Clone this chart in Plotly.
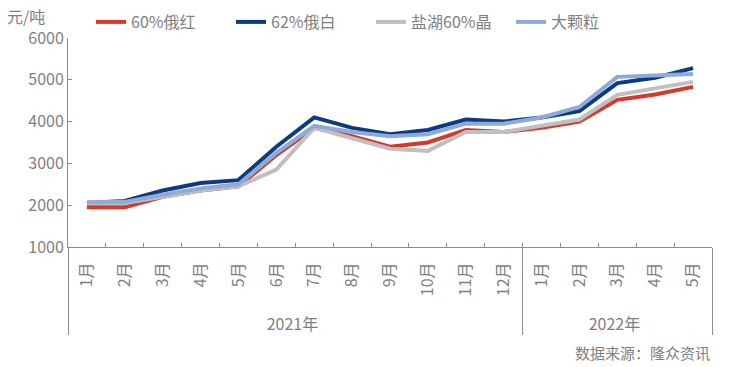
import plotly.graph_objects as go

years = ["2021年"] * 12 + ["2022年"] * 5
months = ["1月", "2月", "3月", "4月", "5月", "6月", "7月", "8月", "9月", "10月", "11月", "12月",
          "1月", "2月", "3月", "4月", "5月"]

s_red = [1950, 1950, 2200, 2350, 2450, 3200, 3850, 3650, 3400, 3500, 3800, 3750, 3850, 4000, 4520, 4650, 4830]
s_dblue = [2050, 2100, 2350, 2530, 2600, 3400, 4100, 3850, 3700, 3800, 4050, 4000, 4100, 4250, 4920, 5050, 5280]
s_gray = [2050, 2050, 2200, 2350, 2450, 2850, 3850, 3600, 3350, 3300, 3750, 3750, 3900, 4050, 4640, 4800, 4950]
s_lblue = [2070, 2080, 2250, 2400, 2500, 3250, 3900, 3750, 3650, 3700, 3950, 3950, 4100, 4350, 5070, 5100, 5140]

names = ["60%俄红", "62%俄白", "盐湖60%晶", "大颗粒"]
colors = ["#d7382b", "#0b3b80", "#c0c0c0", "#8faad8"]
series = [s_red, s_dblue, s_gray, s_lblue]

# invisible leading padding so the year row sits lower (labels are rotated, end-anchored)
month_labels = ["\u00a0\u00a0\u00a0" + m for m in months]

font_family = "Noto Sans CJK SC, Noto Sans, sans-serif"
txt = "#7f7f7f"

fig = go.Figure()
for n, c, s in zip(names, colors, series):
    fig.add_trace(go.Scatter(x=[years, month_labels], y=s, name=n, mode="lines",
                             line=dict(color=c, width=4)))

fig.update_layout(
    width=734, height=367,
    margin=dict(l=68, r=22, t=38, b=120, autoexpand=False),
    paper_bgcolor="white", plot_bgcolor="white",
    font=dict(family=font_family, size=14, color=txt),
    showlegend=True,
    legend=dict(orientation="h", x=23 / 644, xanchor="left", y=1 + 16 / 209, yanchor="middle",
                font=dict(size=16, color=txt), entrywidth=95, tracegroupgap=0,
                bgcolor="rgba(0,0,0,0)"),
    xaxis=dict(type="multicategory", range=[-0.5, 16.5], showline=True,
               linecolor="#8c8c8c", linewidth=1,
               ticks="inside", ticklen=4, tickcolor="#8c8c8c", tickangle=-90,
               ticklabelstandoff=8,
               showdividers=True, dividercolor="#8c8c8c", dividerwidth=1,
               tickfont=dict(size=16, color=txt), showgrid=False, zeroline=False),
    yaxis=dict(range=[1000, 6000], dtick=1000, showline=True, linecolor="#8c8c8c",
               linewidth=1, ticks="inside", ticklen=4, tickcolor="#8c8c8c",
               showgrid=False, zeroline=False, tickfont=dict(size=16, color=txt)),
)

fig.add_annotation(text="元/吨", xref="paper", yref="paper", x=-63 / 644, y=1 + 22 / 209,
                   xanchor="left", yanchor="middle", showarrow=False,
                   font=dict(size=16, color=txt))
fig.add_annotation(text="数据来源：隆众资讯", xref="paper", yref="paper", x=1.0, y=-105 / 209,
                   xanchor="right", yanchor="middle", showarrow=False,
                   font=dict(size=15, color=txt))

fig.write_html("out.html", config={"displayModeBar": False},
               post_script="document.body.style.margin='0';document.body.style.overflow='hidden';")
